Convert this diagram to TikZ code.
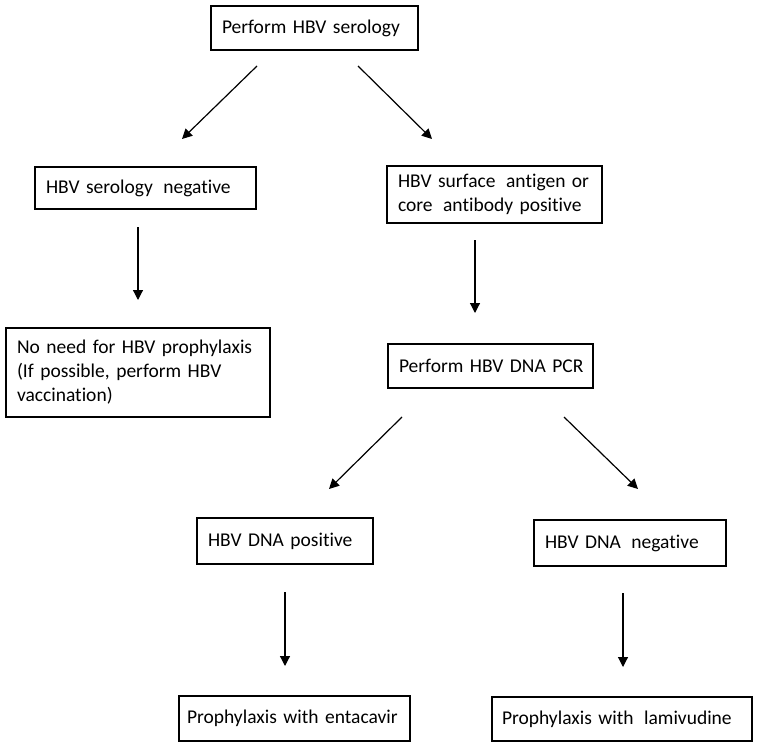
\documentclass[tikz,border=0pt]{standalone}
\usepackage{fontspec}
\setmainfont{Carlito}[Ligatures=NoCommon]
\usetikzlibrary{arrows.meta}
\newcommand{\wsp}{\hspace{4pt}}
\begin{document}
\begin{tikzpicture}[x=1pt,y=-1pt,
  box/.style={draw=black, line width=1.4pt, inner xsep=11pt, inner ysep=0pt, align=left,
    font=\fontsize{19.5}{24}\selectfont, anchor=center},
  arr/.style={line width=1.2pt, -{Triangle[length=10pt,width=10pt]}}]
\useasboundingbox (0,0) rectangle (760,746);
\fill[white] (0,0) rectangle (760,746);
\node[box, minimum width=207pt, text width=185pt, minimum height=44pt] (top) at (314.5,28) {\mbox{Perform HBV serology}};
\node[box, minimum width=221pt, text width=199pt, minimum height=42pt] (neg) at (145.5,188) {\mbox{HBV serology\wsp{} negative}};
\node[box, minimum width=215pt, text width=193pt, minimum height=57pt] (pos) at (494.5,194.5) {\mbox{HBV surface\wsp{} antigen or}\\\mbox{core\wsp{} antibody positive}};
\node[box, minimum width=264pt, text width=242pt, minimum height=89pt] (noneed) at (138,372.5) {No need for HBV prophylaxis\\(If possible, perform HBV\\vaccination)};
\node[box, minimum width=205pt, text width=183pt, minimum height=44pt] (pcr) at (490.5,366) {\mbox{Perform HBV DNA PCR}};
\node[box, minimum width=176pt, text width=154pt, minimum height=46pt] (dpos) at (285,541) {\mbox{HBV DNA positive}};
\node[box, minimum width=192pt, text width=170pt, minimum height=46pt] (dneg) at (630,543) {\mbox{HBV DNA\wsp{} negative}};
\node[box, inner xsep=8pt, minimum width=231pt, text width=215pt, minimum height=45pt] (ent) at (294.5,718.5) {\mbox{Prophylaxis with entacavir}};
\node[box, inner xsep=10pt, minimum width=260pt, text width=240pt, minimum height=44pt] (lam) at (622,719) {\mbox{Prophylaxis with\wsp{} lamivudine}};
% connector end points
\coordinate (a1s) at (257,66);  \coordinate (a1e) at (182,139);
\coordinate (a2s) at (358,66);  \coordinate (a2e) at (432,139);
\coordinate (a3s) at (138,227); \coordinate (a3e) at (138,300);
\coordinate (a4s) at (475,240); \coordinate (a4e) at (475,313);
\coordinate (a5s) at (402,417); \coordinate (a5e) at (329,489);
\coordinate (a6s) at (564,417); \coordinate (a6e) at (638,489);
\coordinate (a7s) at (285,592); \coordinate (a7e) at (285,666);
\coordinate (a8s) at (623,593); \coordinate (a8e) at (623,667);
\draw[arr] (a1s) -- (a1e);
\draw[arr] (a2s) -- (a2e);
\draw[arr] (a3s) -- (a3e);
\draw[arr] (a4s) -- (a4e);
\draw[arr] (a5s) -- (a5e);
\draw[arr] (a6s) -- (a6e);
\draw[arr] (a7s) -- (a7e);
\draw[arr] (a8s) -- (a8e);
\end{tikzpicture}
\end{document}
